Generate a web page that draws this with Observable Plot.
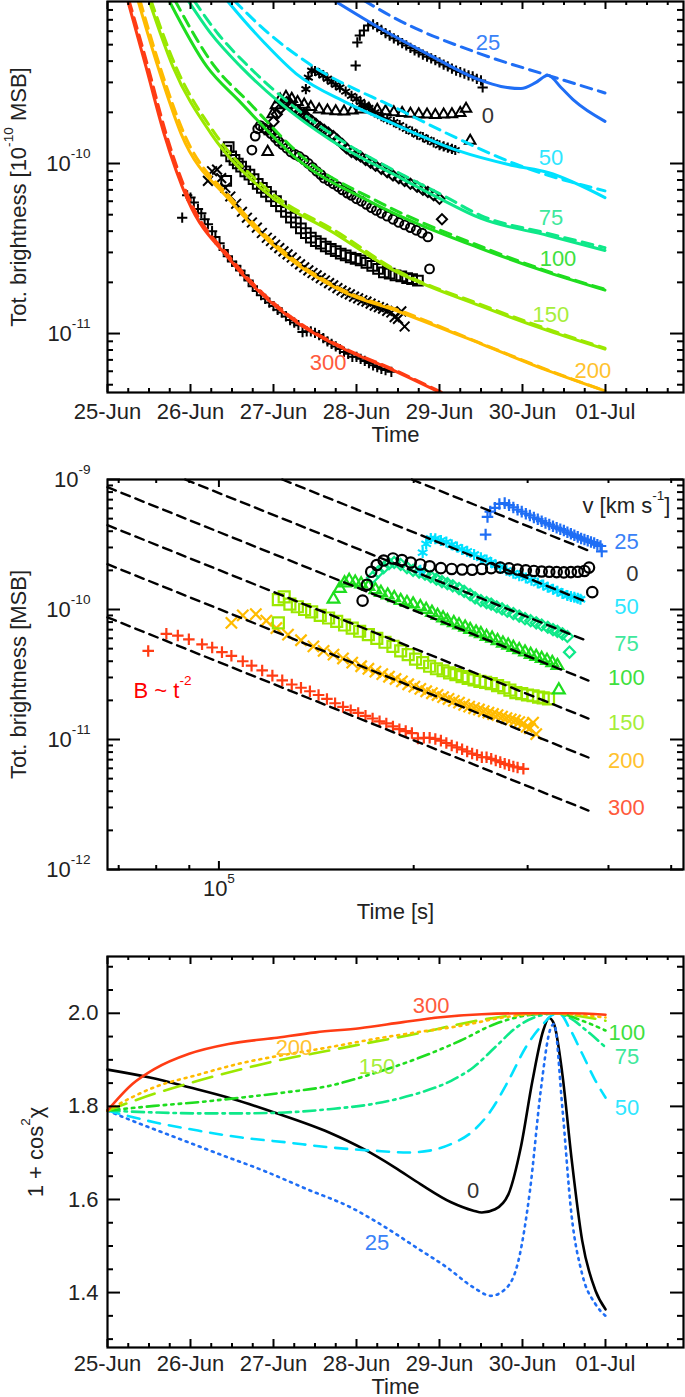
<!DOCTYPE html>
<html><head><meta charset="utf-8">
<script src="https://cdn.jsdelivr.net/npm/d3@7"></script>
<script src="https://cdn.jsdelivr.net/npm/@observablehq/plot@0.6"></script>
<style>
html,body{margin:0;padding:0;background:#fff;}
#fig{width:685px;}
#fig svg{display:block;}
</style></head>
<body><div id="fig"></div>
<script>
// ---------- tick labels ----------
const dayLabels = ["25-Jun","26-Jun","27-Jun","28-Jun","29-Jun","30-Jun","01-Jul"];
const speeds = [300, 200, 150, 100, 75, 50, 0, 25];

// ---------- observations: [days since 25-Jun 00:00 UT, total brightness (MSB)] ----------
const obs300 = [[0.90,4.8e-11],[0.96,6.5e-11],[1.00,6.3e-11],[1.04,5.9e-11],[1.09,5.4e-11],[1.13,5.1e-11],[1.17,4.7e-11],[1.21,4.4e-11],[1.26,4.0e-11],[1.30,3.7e-11],[1.35,3.4e-11],[1.40,3.1e-11],[1.45,2.85e-11],[1.50,2.65e-11],[1.55,2.5e-11],[1.60,2.35e-11],[1.65,2.2e-11],[1.70,2.05e-11],[1.75,1.9e-11],[1.80,1.78e-11],[1.85,1.68e-11],[1.90,1.6e-11],[1.95,1.52e-11],[2.00,1.45e-11],[2.05,1.38e-11],[2.10,1.33e-11],[2.15,1.26e-11],[2.20,1.2e-11],[2.25,1.16e-11],[2.30,1.12e-11],[2.35,1.02e-11],[2.40,1.03e-11],[2.45,1.03e-11],[2.50,1.01e-11],[2.55,9.8e-12],[2.60,9.4e-12],[2.65,9.0e-12],[2.70,8.7e-12],[2.75,8.4e-12],[2.80,8.1e-12],[2.85,7.8e-12],[2.90,7.6e-12],[2.95,7.3e-12],[3.00,7.3e-12],[3.05,7.1e-12],[3.10,6.9e-12],[3.15,6.7e-12],[3.20,6.5e-12],[3.25,6.35e-12],[3.30,6.2e-12],[3.35,6.1e-12],[3.42,5.95e-12]];
const obs200 = [[1.21,7.9e-11],[1.26,9.0e-11],[1.32,9.2e-11],[1.37,8.2e-11],[1.42,7.2e-11],[1.48,6.4e-11],[1.55,5.8e-11],[1.62,5.2e-11],[1.68,4.8e-11],[1.74,4.5e-11],[1.80,4.2e-11],[1.86,3.9e-11],[1.92,3.66e-11],[1.97,3.5e-11],[2.02,3.33e-11],[2.07,3.18e-11],[2.12,3.04e-11],[2.17,2.92e-11],[2.22,2.8e-11],[2.27,2.66e-11],[2.32,2.55e-11],[2.37,2.45e-11],[2.42,2.35e-11],[2.47,2.27e-11],[2.52,2.2e-11],[2.57,2.12e-11],[2.62,2.05e-11],[2.67,1.98e-11],[2.72,1.92e-11],[2.77,1.85e-11],[2.82,1.79e-11],[2.87,1.74e-11],[2.92,1.7e-11],[2.97,1.65e-11],[3.02,1.61e-11],[3.07,1.57e-11],[3.12,1.54e-11],[3.17,1.5e-11],[3.22,1.46e-11],[3.27,1.43e-11],[3.32,1.4e-11],[3.37,1.36e-11],[3.42,1.33e-11],[3.46,1.25e-11],[3.50,1.22e-11],[3.54,1.35e-11],[3.58,1.1e-11]];
const obs150 = [[1.43,7.9e-11],[1.43,1.19e-10],[1.46,1.25e-10],[1.49,1.1e-10],[1.53,1.05e-10],[1.57,1.0e-10],[1.61,9.6e-11],[1.66,9.0e-11],[1.71,8.6e-11],[1.76,8.1e-11],[1.81,7.6e-11],[1.86,7.2e-11],[1.91,6.8e-11],[1.97,6.4e-11],[2.03,6.0e-11],[2.09,5.6e-11],[2.15,5.2e-11],[2.21,4.8e-11],[2.27,4.5e-11],[2.33,4.15e-11],[2.39,3.9e-11],[2.45,3.66e-11],[2.51,3.5e-11],[2.57,3.38e-11],[2.63,3.25e-11],[2.69,3.15e-11],[2.75,3.05e-11],[2.81,2.95e-11],[2.87,2.88e-11],[2.93,2.8e-11],[2.99,2.75e-11],[3.05,2.69e-11],[3.12,2.6e-11],[3.19,2.5e-11],[3.26,2.4e-11],[3.33,2.29e-11],[3.40,2.25e-11],[3.47,2.2e-11],[3.54,2.17e-11],[3.61,2.12e-11],[3.67,2.09e-11],[3.74,2.05e-11]];
const obs100 = [[1.74,1.2e-10],[1.78,1.45e-10],[1.81,1.6e-10],[1.84,1.67e-10],[1.88,1.62e-10],[1.92,1.57e-10],[1.97,1.5e-10],[2.02,1.42e-10],[2.06,1.35e-10],[2.11,1.29e-10],[2.16,1.23e-10],[2.21,1.17e-10],[2.26,1.13e-10],[2.31,1.1e-10],[2.37,1.05e-10],[2.42,1.0e-10],[2.47,9.5e-11],[2.52,9.0e-11],[2.57,8.6e-11],[2.61,8.2e-11],[2.67,7.9e-11],[2.72,7.6e-11],[2.78,7.3e-11],[2.83,7.0e-11],[2.89,6.7e-11],[2.94,6.5e-11],[3.00,6.2e-11],[3.06,6.0e-11],[3.12,5.75e-11],[3.18,5.5e-11],[3.24,5.3e-11],[3.30,5.1e-11],[3.37,4.9e-11],[3.44,4.7e-11],[3.51,4.5e-11],[3.58,4.35e-11],[3.65,4.2e-11],[3.72,4.05e-11],[3.79,3.9e-11],[3.86,3.7e-11],[3.88,2.4e-11]];
const obs75 = [[2.00,1.76e-10],[2.04,1.95e-10],[2.08,2.1e-10],[2.12,2.25e-10],[2.16,2.3e-10],[2.21,2.22e-10],[2.26,2.1e-10],[2.31,2.0e-10],[2.36,1.94e-10],[2.41,1.87e-10],[2.46,1.79e-10],[2.51,1.71e-10],[2.56,1.64e-10],[2.61,1.58e-10],[2.66,1.52e-10],[2.72,1.45e-10],[2.77,1.38e-10],[2.83,1.3e-10],[2.88,1.23e-10],[2.94,1.17e-10],[3.00,1.13e-10],[3.05,1.1e-10],[3.11,1.05e-10],[3.17,1.01e-10],[3.23,9.7e-11],[3.30,9.3e-11],[3.37,8.9e-11],[3.44,8.5e-11],[3.51,8.2e-11],[3.58,7.9e-11],[3.65,7.6e-11],[3.73,7.3e-11],[3.80,7.0e-11],[3.86,6.8e-11],[3.93,6.5e-11],[4.00,6.2e-11],[4.03,4.7e-11]];
const obs50 = [[2.37,2.0e-10],[2.39,2.74e-10],[2.42,3.2e-10],[2.46,3.52e-10],[2.50,3.5e-10],[2.55,3.4e-10],[2.60,3.3e-10],[2.65,3.15e-10],[2.70,3.02e-10],[2.75,2.9e-10],[2.80,2.8e-10],[2.87,2.65e-10],[2.94,2.5e-10],[3.00,2.4e-10],[3.05,2.3e-10],[3.10,2.2e-10],[3.15,2.12e-10],[3.22,2.0e-10],[3.30,1.9e-10],[3.37,1.82e-10],[3.45,1.75e-10],[3.52,1.68e-10],[3.60,1.6e-10],[3.67,1.54e-10],[3.73,1.48e-10],[3.80,1.43e-10],[3.86,1.38e-10],[3.93,1.33e-10],[4.00,1.28e-10],[4.05,1.26e-10],[4.10,1.24e-10],[4.15,1.22e-10],[4.19,1.2e-10]];
const obs0 = [[1.93,1.17e-10],[1.96,1.55e-10],[1.99,1.95e-10],[2.03,2.2e-10],[2.08,2.38e-10],[2.15,2.47e-10],[2.22,2.4e-10],[2.29,2.3e-10],[2.37,2.22e-10],[2.45,2.15e-10],[2.55,2.08e-10],[2.65,2.05e-10],[2.75,2.03e-10],[2.85,2.02e-10],[2.95,2.05e-10],[3.05,2.08e-10],[3.15,2.1e-10],[3.25,2.07e-10],[3.35,2.03e-10],[3.45,2.0e-10],[3.55,1.98e-10],[3.65,1.96e-10],[3.75,1.95e-10],[3.85,1.94e-10],[3.95,1.93e-10],[4.05,1.94e-10],[4.15,1.95e-10],[4.25,1.98e-10],[4.32,2.1e-10],[4.37,1.36e-10]];
const obs25 = [[2.99,3.77e-10],[3.01,5.15e-10],[3.04,5.66e-10],[3.09,6.05e-10],[3.14,6.49e-10],[3.20,6.58e-10],[3.25,6.35e-10],[3.30,6.1e-10],[3.35,5.85e-10],[3.40,5.66e-10],[3.45,5.45e-10],[3.50,5.29e-10],[3.55,5.1e-10],[3.60,4.95e-10],[3.65,4.78e-10],[3.70,4.62e-10],[3.75,4.5e-10],[3.80,4.37e-10],[3.85,4.25e-10],[3.90,4.15e-10],[3.95,4.05e-10],[4.00,3.93e-10],[4.05,3.82e-10],[4.10,3.72e-10],[4.15,3.62e-10],[4.20,3.52e-10],[4.25,3.45e-10],[4.30,3.38e-10],[4.35,3.3e-10],[4.40,3.25e-10],[4.45,3.15e-10],[4.50,3.08e-10],[4.52,2.8e-10]];

// ---------- model brightness curves (top panel): solid and dashed ----------
const fit300 = [[0.243,9.1e-10],[0.464,3.7e-10],[0.681,1.5e-10],[0.970,6.05e-11],[1.452,2.8e-11],[1.813,1.79e-11],[2.295,1.15e-11],[2.813,8.28e-12],[3.452,6.05e-12],[4.006,4.5e-12]];
const alt300 = [[0.259,9.1e-10],[0.488,3.7e-10],[0.705,1.5e-10],[0.994,6.05e-11],[1.476,2.8e-11],[1.837,1.79e-11],[2.319,1.15e-11],[2.837,8.28e-12],[3.476,6.05e-12],[4.030,4.5e-12]];
const fit200 = [[0.367,9.1e-10],[0.608,3.7e-10],[0.886,1.5e-10],[1.476,6.05e-11],[1.729,4.4e-11],[2.175,2.8e-11],[2.813,1.79e-11],[3.536,1.33e-11],[4.5,8.7e-12],[5.307,6.05e-12],[5.994,4.6e-12]];
const alt200 = [[0.392,9.1e-10],[0.633,3.7e-10],[0.922,1.5e-10],[1.512,6.05e-11],[2.211,2.8e-11],[2.849,1.79e-11],[3.584,1.33e-11],[4.5,8.75e-12],[5.307,6.1e-12],[5.994,4.6e-12]];
const fit150 = [[0.500,9.1e-10],[0.789,3.7e-10],[1.247,1.5e-10],[1.886,6.9e-11],[2.729,3.9e-11],[3.416,2.4e-11],[4.5,1.45e-11],[5.307,1.04e-11],[5.994,8.1e-12]];
const alt150 = [[0.524,9.1e-10],[0.825,3.7e-10],[1.295,1.5e-10],[1.946,6.9e-11],[2.789,3.9e-11],[3.452,2.4e-11],[4.5,1.48e-11],[5.307,1.06e-11],[5.994,8.2e-12]];
const fit100 = [[0.741,9.1e-10],[1.200,3.7e-10],[1.580,2.35e-10],[2.307,1.04e-10],[3.139,6.05e-11],[4.5,3.16e-11],[5.307,2.29e-11],[5.994,1.8e-11]];
const alt100 = [[0.813,9.1e-10],[1.295,3.7e-10],[1.681,2.35e-10],[2.404,1.04e-10],[3.235,6.05e-11],[4.5,3.25e-11],[5.307,2.32e-11],[5.994,1.82e-11]];
const fit75 = [[0.970,9.1e-10],[1.247,5.8e-10],[1.608,3.7e-10],[2.090,2.25e-10],[2.693,1.37e-10],[3.536,8.2e-11],[3.982,6.3e-11],[4.5,4.75e-11],[5.307,3.77e-11],[5.994,3.08e-11]];
const alt75 = [[1.042,9.1e-10],[1.331,5.8e-10],[1.705,3.7e-10],[2.199,2.25e-10],[2.813,1.37e-10],[3.633,8.2e-11],[4.066,6.4e-11],[4.5,4.94e-11],[5.307,3.88e-11],[5.994,3.2e-11]];
const fit50 = [[1.440,9.1e-10],[1.645,6.94e-10],[1.898,5.08e-10],[2.271,3.38e-10],[2.873,2.29e-10],[3.416,1.74e-10],[4.223,1.19e-10],[4.898,9.7e-11],[5.307,8.85e-11],[5.994,6.3e-11]];
const alt50 = [[1.524,9.1e-10],[1.946,5.8e-10],[2.416,3.9e-10],[3.536,2.05e-10],[4.223,1.40e-10],[4.898,1.0e-10],[5.994,6.9e-11]];
const fit25 = [[2.729,9.1e-10],[3.295,6.2e-10],[3.898,4.3e-10],[4.5,3.08e-10],[4.741,2.84e-10],[4.982,2.76e-10],[5.163,3.0e-10],[5.307,3.3e-10],[5.464,2.8e-10],[5.620,2.35e-10],[5.994,1.77e-10]];
const alt25 = [[3.090,9.1e-10],[3.452,7.2e-10],[4.5,4.4e-10],[5.307,3.3e-10],[5.994,2.6e-10]];

// ---------- B ~ t^-2 reference lines (middle panel): [time (s), brightness] end points ----------
const ref300 = [[6.727e4,8.7e-11],[3.725e5,2.84e-12]];
const ref200 = [[6.727e4,2.23e-10],[3.725e5,7.27e-12]];
const ref150 = [[6.727e4,4.45e-10],[3.725e5,1.45e-11]];
const ref100 = [[6.727e4,8.72e-10],[3.725e5,2.84e-11]];
const ref75  = [[8.87e4,1.0e-9],[3.725e5,5.68e-11]];
const ref50  = [[1.253e5,1.0e-9],[3.725e5,1.13e-10]];
const ref25  = [[1.987e5,1.0e-9],[3.725e5,2.84e-10]];

// ---------- 1 + cos^2(chi) (bottom panel): [days since 25-Jun, value] ----------
const chi300 = [[0,1.791],[0.3,1.848],[0.563,1.880],[0.984,1.913],[1.458,1.934],[2.01,1.947],[2.51,1.959],[3.04,1.968],[3.56,1.981],[3.98,1.991],[4.51,1.998],[5.04,2.0],[5.56,2.0],[6.0,1.997]];
const chi200 = [[0,1.791],[0.3,1.820],[0.563,1.841],[1.09,1.868],[1.616,1.893],[2.14,1.911],[2.67,1.927],[3.19,1.944],[3.72,1.959],[4.25,1.973],[4.77,1.991],[5.3,2.0],[6.0,1.991]];
const chi150 = [[0,1.791],[0.563,1.827],[1.09,1.855],[1.616,1.880],[2.14,1.902],[2.67,1.920],[3.19,1.938],[3.72,1.956],[4.25,1.977],[4.77,1.993],[5.3,2.0],[6.0,1.984]];
const chi100 = [[0,1.791],[0.563,1.801],[1.09,1.809],[1.616,1.819],[2.14,1.830],[2.67,1.844],[3.19,1.870],[3.72,1.902],[4.25,1.941],[4.67,1.977],[5.04,1.995],[5.41,2.0],[5.72,1.984],[6.0,1.963]];
const chi75 = [[0,1.791],[0.563,1.787],[1.09,1.785],[1.616,1.785],[2.14,1.787],[2.67,1.794],[3.19,1.805],[3.72,1.827],[4.14,1.855],[4.41,1.884],[4.67,1.927],[4.93,1.970],[5.14,1.991],[5.41,2.0],[5.56,1.991],[5.77,1.963],[6.0,1.927]];
const chi50 = [[0,1.791],[0.563,1.766],[1.09,1.748],[1.616,1.733],[2.14,1.723],[2.67,1.712],[3.19,1.705],[3.62,1.701],[3.88,1.705],[4.14,1.719],[4.41,1.748],[4.62,1.791],[4.83,1.855],[5.04,1.927],[5.25,1.977],[5.38,1.997],[5.46,1.997],[5.56,1.970],[5.72,1.913],[5.88,1.855],[6.0,1.819]];
const chi25 = [[0,1.791],[0.3,1.769],[0.826,1.733],[1.353,1.697],[1.879,1.662],[2.405,1.622],[2.93,1.583],[3.35,1.540],[3.72,1.497],[4.09,1.454],[4.41,1.411],[4.62,1.393],[4.77,1.404],[4.93,1.454],[5.09,1.619],[5.22,1.834],[5.33,1.963],[5.38,1.977],[5.48,1.798],[5.59,1.568],[5.72,1.439],[5.88,1.375],[6.0,1.350]];
const chi0 = [[0,1.879],[0.51,1.862],[0.984,1.841],[1.51,1.816],[2.01,1.787],[2.67,1.744],[3.09,1.708],[3.46,1.669],[3.77,1.633],[4.14,1.594],[4.41,1.576],[4.51,1.572],[4.67,1.579],[4.83,1.611],[4.98,1.712],[5.12,1.855],[5.25,1.963],[5.32,1.99],[5.38,1.977],[5.48,1.870],[5.59,1.690],[5.72,1.511],[5.88,1.404],[6.0,1.364]];

// ---------- label positions ----------
const topLabels = [["25",4.584,5.15e-10],["0",4.584,1.91e-10],["50",5.343,1.08e-10],["75",5.343,4.81e-11],["100",5.428,2.76e-11],["150",5.343,1.28e-11],["200",5.849,6.05e-12],["300",2.657,6.75e-12]];
const midLabels = [["25",4.264e5,3.28e-10],["0",4.356e5,1.89e-10],["50",4.264e5,1.04e-10],["75",4.264e5,5.47e-11],["100",4.264e5,3.0e-11],["150",4.264e5,1.33e-11],["200",4.264e5,6.89e-12],["300",4.264e5,3.0e-12]];
const botLabels = [["300",3.898,2.0166],["200",2.247,1.926],["150",3.247,1.885],["0",4.404,1.618],["25",3.247,1.507],["100",6.259,1.958],["75",6.259,1.907],["50",6.259,1.797]];

// ---------- styles ----------
const lineCol = {300:"#ff3c14",200:"#ffbb00",150:"#9be800",100:"#1fdd1f",75:"#0ee889",50:"#00e1ff",25:"#1f6ef5",0:"#000"};
const labCol  = {300:"#ff5a3c",200:"#ffc22e",150:"#a6ee3a",100:"#3ee03e",75:"#3ee89c",50:"#2ee6ff",25:"#3a82f7",0:"#333"};
const obsBy = {300:obs300,200:obs200,150:obs150,100:obs100,75:obs75,50:obs50,0:obs0,25:obs25};
const fitBy = {300:fit300,200:fit200,150:fit150,100:fit100,75:fit75,50:fit50,25:fit25};
const altBy = {300:alt300,200:alt200,150:alt150,100:alt100,75:alt75,50:alt50,25:alt25};
const refBy = [ref300,ref200,ref150,ref100,ref75,ref50,ref25];
const chiBy = {0:chi0,25:chi25,50:chi50,75:chi75,100:chi100,150:chi150,200:chi200,300:chi300};
const topSym = {300:["plus",3.4],200:["times",4.5],150:["square2",6.2],100:["circle",4.4],75:["diamond2",4.6],50:["asterisk",4.8],0:["triangle2",5.0],25:["plus",3.4]};
const midSym = {300:["plus",3.8],200:["times",5.2],150:["square2",7.0],100:["triangle2",5.6],75:["diamond2",5.0],50:["asterisk",5.2],0:["circle",5.2],25:["plus",3.8]};
const chiDash = {300:null,200:"2,5",150:"20,10",100:"12,5,2.5,5,2.5,5,2.5,5",75:"12,5,2.5,5",50:"12,9",25:"2,5",0:null};

const FONT = "'Liberation Sans', Arial, Helvetica, sans-serif";
const D = d => new Date(Date.UTC(2012, 5, 25) + d * 864e5);
const rowsD = arr => arr.map(([d, v]) => ({x: D(d), v}));
const rowsT = arr => arr.map(([d, v]) => ({x: d * 86400, v}));
const rowsP = arr => arr.map(([x, v]) => ({x, v}));
const pow10 = v => "10^{" + Math.round(Math.log10(v)) + "}";
const fmtDay = d => dayLabels[Math.round((d - D(0)) / 864e5)];

const dayMajor = d3.range(0, 7).map(D);
const dayMinor = d3.range(0.25, 6.9, 0.25).filter(v => v % 1 !== 0).map(D);
const decMinor = (lo, hi) => { const o = []; for (let e = lo; e < hi; e++) for (let k = 2; k <= 9; k++) o.push(k * Math.pow(10, e)); return o; };

const W = 685, ML = 107, MR = 2, FW = W - ML - MR;
const base = {width: W, marginLeft: ML, marginRight: MR,
  style: {fontFamily: FONT, fontSize: "22px", color: "#222", background: "#fff", overflow: "visible"}};

function frameTicks(xMaj, xMin, yMaj, yMin, H) {
  const st = {stroke: "#000", strokeWidth: 2};
  return [
    Plot.ruleX(xMaj, {...st, insetTop: H - 8}), Plot.ruleX(xMaj, {...st, insetBottom: H - 8}),
    Plot.ruleX(xMin, {...st, insetTop: H - 4}), Plot.ruleX(xMin, {...st, insetBottom: H - 4}),
    Plot.ruleY(yMaj, {...st, insetRight: FW - 13}), Plot.ruleY(yMaj, {...st, insetLeft: FW - 13}),
    Plot.ruleY(yMin, {...st, insetRight: FW - 6}), Plot.ruleY(yMin, {...st, insetLeft: FW - 6}),
    Plot.frame({stroke: "#000", strokeWidth: 2.2})
  ];
}
const yTitle = (s, dx) => Plot.text([s], {frameAnchor: "left", dx, rotate: -90, textAnchor: "middle", lineAnchor: "middle", fill: "#222", fontSize: 22});
const xTitle = (s, dy) => Plot.text([s], {frameAnchor: "bottom", dy, textAnchor: "middle", lineAnchor: "middle", fill: "#222", fontSize: 22});

// ---------- top panel ----------
const H1 = 455, mt1 = 1, mb1 = 63;
const topPlot = Plot.plot({
  ...base, height: H1, marginTop: mt1, marginBottom: mb1,
  x: {type: "utc", domain: [D(0), D(6.94)], ticks: dayMajor, tickFormat: fmtDay, tickSize: 0, tickPadding: 11, label: null},
  y: {type: "log", domain: [4.5e-12, 8.97e-10], ticks: [1e-11, 1e-10], tickFormat: pow10, tickSize: 0, tickPadding: 17, label: null},
  marks: [
    ...speeds.map(s => Plot.dot(rowsD(obsBy[s]), {x: "x", y: "v", symbol: topSym[s][0], r: topSym[s][1], stroke: "#000", fill: "none", strokeWidth: 2})),
    ...speeds.filter(s => fitBy[s]).map(s => Plot.line(rowsD(fitBy[s]), {x: "x", y: "v", stroke: lineCol[s], strokeWidth: 3, curve: "monotone-x", clip: true})),
    ...speeds.filter(s => altBy[s]).map(s => Plot.line(rowsD(altBy[s]), {x: "x", y: "v", stroke: lineCol[s], strokeWidth: 3, strokeDasharray: "11,7", curve: "monotone-x", clip: true})),
    ...topLabels.map(([t, d, b]) => Plot.text([t], {x: D(d), y: b, fill: labCol[+t], fontSize: 22})),
    yTitle("Tot. brightness [10^{-10} MSB]", -89),
    xTitle("Time", 42),
    ...frameTicks(dayMajor, dayMinor, [1e-11, 1e-10], decMinor(-12, -9).filter(v => v >= 4.5e-12 && v <= 8.97e-10), H1 - mt1 - mb1)
  ]
});

// ---------- middle panel ----------
const H2 = 475, mt2 = 24, mb2 = 61;
const midPlot = Plot.plot({
  ...base, height: H2, marginTop: mt2, marginBottom: mb2,
  x: {type: "log", domain: [67270, 522400], ticks: [1e5], tickFormat: pow10, tickSize: 0, tickPadding: 11, label: null},
  y: {type: "log", domain: [1e-12, 1e-9], ticks: [1e-12, 1e-11, 1e-10, 1e-9], tickFormat: pow10, tickSize: 0, tickPadding: 17, label: null},
  marks: [
    ...speeds.map(s => Plot.dot(rowsT(obsBy[s]), {x: "x", y: "v", symbol: midSym[s][0], r: midSym[s][1], stroke: lineCol[s], fill: "none", strokeWidth: 2.2})),
    ...refBy.map(r => Plot.line(rowsP(r), {x: "x", y: "v", stroke: "#000", strokeWidth: 2.4, strokeDasharray: "9,6"})),
    ...midLabels.map(([t, x, b]) => Plot.text([t], {x, y: b, fill: labCol[+t], fontSize: 22})),
    Plot.text(["v [km s^{-1}]"], {x: 4.264e5, y: 6.3e-10, fill: "#222", fontSize: 22}),
    Plot.text(["B ~ t^{-2}"], {x: 7.38e4, y: 2.38e-11, textAnchor: "start", fill: "#ff0000", fontSize: 22}),
    yTitle("Tot. brightness [MSB]", -89),
    xTitle("Time [s]", 42),
    ...frameTicks([1e5], [7e4, 8e4, 9e4, 2e5, 3e5, 4e5, 5e5], [1e-12, 1e-11, 1e-10, 1e-9], decMinor(-12, -9), H2 - mt2 - mb2)
  ]
});

// ---------- bottom panel ----------
const H3 = 467, mt3 = 26, mb3 = 50;
const chiOrder = [0, 25, 50, 75, 100, 150, 200, 300];
const botPlot = Plot.plot({
  ...base, height: H3, marginTop: mt3, marginBottom: mb3,
  x: {type: "utc", domain: [D(0), D(6.94)], ticks: dayMajor, tickFormat: fmtDay, tickSize: 0, tickPadding: 8, label: null},
  y: {domain: [1.282, 2.122], ticks: [1.4, 1.6, 1.8, 2.0], tickFormat: d3.format(".1f"), tickSize: 0, tickPadding: 9, label: null},
  marks: [
    ...chiOrder.map(s => Plot.line(rowsD(chiBy[s]), {x: "x", y: "v", stroke: lineCol[s], strokeWidth: 2.6, strokeDasharray: chiDash[s] || undefined, curve: "monotone-x"})),
    ...botLabels.map(([t, d, v]) => Plot.text([t], {x: D(d), y: v, fill: labCol[+t], fontSize: 22})),
    yTitle("1 + cos^{2}χ", -72),
    xTitle("Time", 39),
    ...frameTicks(dayMajor, dayMinor, [1.4, 1.6, 1.8, 2.0], [1.30,1.35,1.45,1.50,1.55,1.65,1.70,1.75,1.85,1.90,1.95,2.05,2.10], H3 - mt3 - mb3)
  ]
});

const fig = document.getElementById("fig");
[topPlot, midPlot, botPlot].forEach(p => fig.appendChild(p));

// superscripts: "a^{b}" -> tspans
function supify(svg) {
  svg.querySelectorAll("text").forEach(t => {
    const s = t.textContent;
    if (!s.includes("^{")) return;
    const fs = parseFloat(getComputedStyle(t).fontSize) || 22;
    const sh = (0.58 * fs).toFixed(1);
    const parts = s.split(/(\^\{[^}]*\})/).filter(p => p);
    while (t.firstChild) t.removeChild(t.firstChild);
    let raised = false;
    for (const p of parts) {
      const ts = document.createElementNS("http://www.w3.org/2000/svg", "tspan");
      if (p.startsWith("^{")) {
        ts.textContent = p.slice(2, -1);
        ts.setAttribute("font-size", (0.62 * fs).toFixed(1));
        ts.setAttribute("dy", "-" + sh);
        raised = true;
      } else {
        ts.textContent = p;
        if (raised) { ts.setAttribute("dy", sh); raised = false; }
      }
      t.appendChild(ts);
    }
  });
}
fig.querySelectorAll("svg").forEach(supify);
</script>
</body></html>
